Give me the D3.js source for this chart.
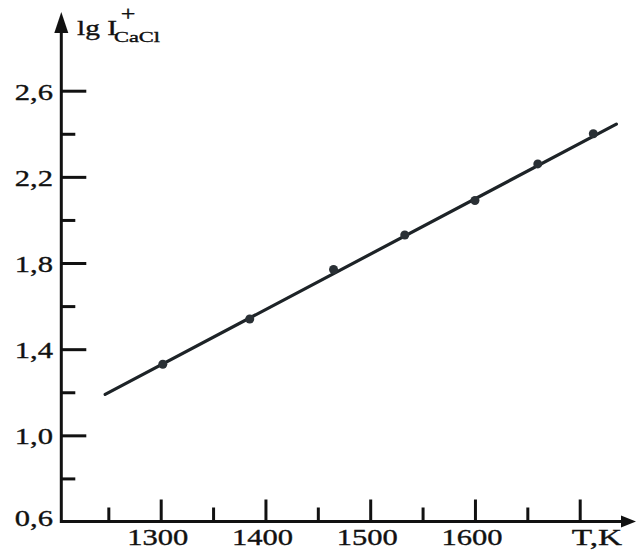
<!DOCTYPE html>
<html>
<head>
<meta charset="utf-8">
<script src="https://cdn.jsdelivr.net/npm/d3@7/dist/d3.min.js"></script>
<style>
  html, body { margin: 0; padding: 0; background: #fff; }
  svg { display: block; }
  text { font-family: "Liberation Serif", "DejaVu Serif", serif; fill: #111; stroke: #111; stroke-width: 0.35px; }
</style>
</head>
<body>
<script>
// ---- data ----
const temperatures = [1302, 1385, 1465, 1533, 1600, 1660, 1713];
const lgI = [1.33, 1.54, 1.77, 1.93, 2.09, 2.26, 2.40];
const fitT = [1247, 1735];
const fitLg = [1.19, 2.445];
const xMajorTicks = [1300, 1400, 1500, 1600, 1700];
const xTickLabels = ["1300", "1400", "1500", "1600", ""];
const xMinorTicks = [1250, 1350, 1450, 1550, 1650];
const yMajorTicks = [0.6, 1.0, 1.4, 1.8, 2.2, 2.6];
const yTickLabels = ["0,6", "1,0", "1,4", "1,8", "2,2", "2,6"];
const yMinorTicks = [0.8, 1.2, 1.6, 2.0, 2.4];
const xTitle = "T,K";
const yTitleMain = "lg I";
const yTitleSup = "+";
const yTitleSub = "CaCl";

// ---- layout ----
const W = 637, H = 556;
const svg = d3.select("body").append("svg").attr("width", W).attr("height", H);

const x = d3.scaleLinear().domain([1300, 1700]).range([160.7, 579.7]);
const y = d3.scaleLinear().domain([0.6, 2.6]).range([521.5, 90.7]);
const x0 = x.invert(61.3);
const xEnd = x.invert(636);
const yEnd = y.invert(12);
const ink = "#111";
const sx = 1.33;

// axes lines
svg.append("line")
  .attr("x1", x(x0)).attr("x2", x(xEnd) - 8)
  .attr("y1", y(0.6)).attr("y2", y(0.6))
  .attr("stroke", ink).attr("stroke-width", 3);
svg.append("line")
  .attr("x1", x(x0)).attr("x2", x(x0))
  .attr("y1", y(0.6) + 1.5).attr("y2", y(yEnd) + 8)
  .attr("stroke", ink).attr("stroke-width", 3);

// arrow heads
svg.append("path")
  .attr("d", `M${x(xEnd)},${y(0.6)} L${x(xEnd) - 15},${y(0.6) - 6} L${x(xEnd) - 15},${y(0.6) + 6} Z`)
  .attr("fill", ink);
svg.append("path")
  .attr("d", `M${x(x0)},${y(yEnd)} L${x(x0) - 7},${y(yEnd) + 21} L${x(x0) + 7},${y(yEnd) + 21} Z`)
  .attr("fill", ink);

function styleAxis(g) {
  g.select(".domain").remove();
  g.selectAll(".tick line").attr("stroke", ink).attr("stroke-width", 3);
  g.selectAll(".tick text").remove();
}
// y ticks (inward)
svg.append("g").attr("transform", `translate(${x(x0)},0)`)
  .call(d3.axisRight(y).tickValues(yMajorTicks.filter(v => v > 0.6)).tickSize(25).tickFormat(""))
  .call(styleAxis);
svg.append("g").attr("transform", `translate(${x(x0)},0)`)
  .call(d3.axisRight(y).tickValues(yMinorTicks).tickSize(14).tickFormat(""))
  .call(styleAxis);

// x ticks (inward, up)
svg.append("g").attr("transform", `translate(0,${y(0.6)})`)
  .call(d3.axisTop(x).tickValues(xMajorTicks).tickSize(22).tickFormat(""))
  .call(styleAxis);
svg.append("g").attr("transform", `translate(0,${y(0.6)})`)
  .call(d3.axisTop(x).tickValues(xMinorTicks).tickSize(14).tickFormat(""))
  .call(styleAxis);

// tick labels
svg.append("g").selectAll("text")
  .data(yMajorTicks)
  .join("text")
  .attr("text-anchor", "end")
  .attr("font-size", 23)
  .attr("transform", (d, i) => `translate(53,${y(d) + (i === 0 ? 4 : 9)}) scale(${sx},1)`)
  .text((d, i) => yTickLabels[i]);

svg.append("g").selectAll("text")
  .data(xMajorTicks)
  .join("text")
  .attr("text-anchor", "middle")
  .attr("font-size", 23)
  .attr("transform", d => `translate(${x(d) - 3},545) scale(${sx},1)`)
  .text((d, i) => xTickLabels[i]);

// axis titles
svg.append("text")
  .attr("text-anchor", "middle")
  .attr("font-size", 23)
  .attr("transform", `translate(597,545) scale(1.45,1)`)
  .text(xTitle);

svg.append("text")
  .attr("font-size", 21)
  .attr("transform", `translate(77,35) scale(1.4,1)`)
  .text(yTitleMain);
svg.append("text")
  .attr("font-size", 20)
  .attr("text-anchor", "middle")
  .attr("transform", `translate(128,21) scale(1.3,1)`)
  .text(yTitleSup);
svg.append("text")
  .attr("font-size", 14)
  .attr("transform", `translate(114,42) scale(1.6,1)`)
  .text(yTitleSub);

// fit line
const line = d3.line().x(d => x(d[0])).y(d => y(d[1]));
svg.append("path")
  .datum(d3.zip(fitT, fitLg))
  .attr("d", line)
  .attr("fill", "none")
  .attr("stroke", "#1d2327")
  .attr("stroke-width", 3.2)
  .attr("stroke-linecap", "round");

// data points
svg.append("g").selectAll("circle")
  .data(d3.zip(temperatures, lgI))
  .join("circle")
  .attr("cx", d => x(d[0]))
  .attr("cy", d => y(d[1]))
  .attr("r", 4.5)
  .attr("fill", "#2a3035");
</script>
</body>
</html>
